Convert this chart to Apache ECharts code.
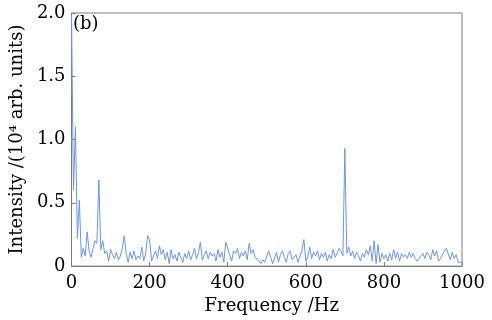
<!DOCTYPE html>
<html>
<head>
<meta charset="utf-8">
<script src="https://cdn.jsdelivr.net/npm/echarts@6/dist/echarts.min.js"></script>
<style>
  html, body { margin: 0; padding: 0; background: #fff; }
  #chart { width: 492px; height: 320px; }
</style>
</head>
<body>
<div id="chart"></div>
<script>
// spectrum, one value every 5 Hz from 0 to 1000 Hz (10^4 arb. units)
const freqStep = 5;
const intensity = [
  1.98, 0.60, 1.10, 0.22, 0.52, 0.07, 0.14, 0.08, 0.27, 0.12,
  0.07, 0.14, 0.20, 0.18, 0.68, 0.13, 0.20, 0.10, 0.12, 0.04,
  0.13, 0.09, 0.06, 0.11, 0.05, 0.08, 0.14, 0.24, 0.10, 0.03,
  0.11, 0.06, 0.12, 0.05, 0.08, 0.06, 0.15, 0.04, 0.10, 0.24,
  0.21, 0.04, 0.08, 0.12, 0.06, 0.16, 0.09, 0.13, 0.05, 0.11,
  0.02, 0.13, 0.06, 0.09, 0.04, 0.11, 0.07, 0.03, 0.10, 0.06,
  0.12, 0.05, 0.09, 0.14, 0.06, 0.10, 0.19, 0.05, 0.04, 0.12,
  0.06, 0.11, 0.08, 0.10, 0.04, 0.13, 0.07, 0.11, 0.03, 0.19,
  0.18, 0.09, 0.04, 0.12, 0.10, 0.14, 0.06, 0.11, 0.08, 0.12,
  0.05, 0.18, 0.10, 0.13, 0.07, 0.08, 0.04, 0.02, 0.05, 0.03,
  0.08, 0.12, 0.07, 0.02, 0.06, 0.11, 0.03, 0.09, 0.12, 0.07,
  0.03, 0.10, 0.12, 0.05, 0.06, 0.09, 0.03, 0.08, 0.12, 0.21,
  0.04, 0.07, 0.15, 0.06, 0.11, 0.08, 0.12, 0.05, 0.10, 0.07,
  0.11, 0.04, 0.09, 0.06, 0.13, 0.07, 0.10, 0.14, 0.12, 0.08,
  0.93, 0.10, 0.15, 0.08, 0.12, 0.06, 0.11, 0.08, 0.04, 0.10,
  0.07, 0.13, 0.09, 0.16, 0.04, 0.20, 0.02, 0.17, 0.03, 0.10,
  0.06, 0.09, 0.04, 0.10, 0.05, 0.13, 0.06, 0.11, 0.04, 0.10,
  0.07, 0.09, 0.06, 0.11, 0.07, 0.10, 0.06, 0.04, 0.05, 0.08,
  0.10, 0.06, 0.11, 0.09, 0.05, 0.13, 0.08, 0.12, 0.04, 0.06,
  0.07, 0.12, 0.14, 0.15, 0.05, 0.11, 0.06, 0.09, 0.03, 0.04,
  0.03
];
const xTicks = [0, 200, 400, 600, 800, 1000];
const yTicks = [0, 0.5, 1.0, 1.5, 2.0];

const font = '"DejaVu Serif", "Liberation Serif", serif';
const frameColor = '#808080';

const chart = echarts.init(document.getElementById('chart'));

const option = {
  backgroundColor: '#fff',
  animation: false,
  grid: {
    left: 69, right: 30, top: 13, bottom: 52,
    show: true, borderColor: frameColor, borderWidth: 1
  },
  graphic: [{
    type: 'text', left: 73, top: 15,
    style: { text: '(b)', font: '18px ' + font, fill: '#000' }
  }],
  xAxis: {
    type: 'value',
    min: xTicks[0], max: xTicks[xTicks.length - 1], interval: 200,
    name: 'Frequency /Hz',
    nameLocation: 'middle', nameGap: 25,
    nameTextStyle: { fontFamily: font, fontSize: 18, color: '#000', padding: [0, 0, 0, 10] },
    axisLine: { show: true, lineStyle: { color: frameColor } },
    axisTick: { show: true, inside: true, length: 4, lineStyle: { color: frameColor } },
    axisLabel: {
      fontFamily: font, fontSize: 18, color: '#000', margin: 8,
      formatter: v => String(v)
    },
    splitLine: { show: false }
  },
  yAxis: {
    type: 'value',
    min: yTicks[0], max: yTicks[yTicks.length - 1], interval: 0.5,
    name: 'Intensity /(10\u2074 arb. units)',
    nameLocation: 'middle', nameGap: 38,
    nameTextStyle: { fontFamily: font, fontSize: 18, color: '#000' },
    axisLine: { show: true, lineStyle: { color: frameColor } },
    axisTick: { show: true, inside: true, length: 4, lineStyle: { color: frameColor } },
    axisLabel: {
      fontFamily: font, fontSize: 18, color: '#000', margin: 6,
      formatter: v => (v === 0 ? '0' : v.toFixed(1))
    },
    splitLine: { show: false }
  },
  series: [{
    type: 'line',
    data: intensity.map((v, i) => [i * freqStep, v]),
    showSymbol: false,
    clip: true,
    lineStyle: { color: '#7096d8', width: 1 }
  }]
};

chart.setOption(option);
</script>
</body>
</html>
